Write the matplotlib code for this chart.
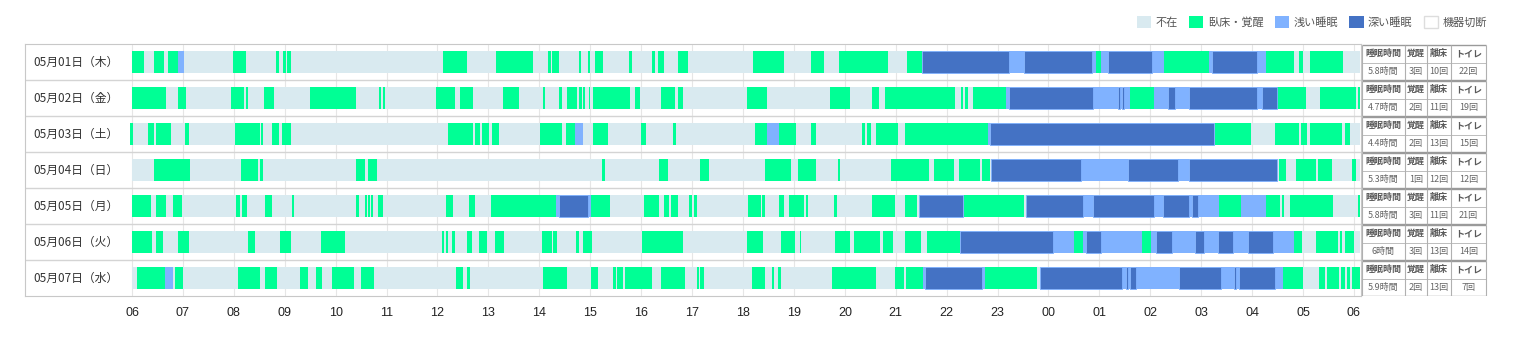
import matplotlib.pyplot as plt
from matplotlib.patches import Patch

plt.rcParams['font.family'] = ['Noto Sans CJK JP', 'DejaVu Sans']

# hours measured from 06:00 (0 .. 24)
hour_labels = ['06', '07', '08', '09', '10', '11', '12', '13', '14', '15', '16', '17',
               '18', '19', '20', '21', '22', '23', '00', '01', '02', '03', '04', '05', '06']

day_labels = ['05月01日（木）', '05月02日（金）', '05月03日（土）', '05月04日（日）',
              '05月05日（月）', '05月06日（火）', '05月07日（水）']

# W = 臥床・覚醒, L = 浅い睡眠, D = 深い睡眠 (rest of the day is 不在)
seg_0501 = [(0.0, 0.23, 'W'), (0.44, 0.63, 'W'), (0.71, 0.90, 'W'), (0.90, 1.03, 'L'),
            (1.98, 2.24, 'W'), (2.83, 2.88, 'W'), (2.97, 3.02, 'W'), (3.05, 3.12, 'W'),
            (6.10, 6.57, 'W'), (7.14, 7.88, 'W'), (8.18, 8.22, 'W'), (8.24, 8.38, 'W'),
            (8.77, 8.81, 'W'), (8.95, 9.00, 'W'), (9.09, 9.25, 'W'), (9.77, 9.82, 'W'),
            (10.22, 10.28, 'W'), (10.33, 10.45, 'W'), (10.73, 10.92, 'W'), (12.20, 12.80, 'W'),
            (13.33, 13.60, 'W'), (13.88, 14.85, 'W'), (15.22, 15.51, 'W'), (15.51, 17.23, 'D'),
            (17.23, 17.52, 'L'), (17.52, 18.85, 'D'), (18.85, 18.93, 'L'), (18.93, 19.04, 'W'),
            (19.04, 19.17, 'L'), (19.17, 20.04, 'D'), (20.04, 20.27, 'L'), (20.27, 21.16, 'W'),
            (21.16, 21.21, 'L'), (21.21, 22.09, 'D'), (22.09, 22.28, 'L'), (22.28, 22.82, 'W'),
            (22.92, 22.99, 'W'), (23.13, 23.79, 'W')]

seg_0502 = [(0.0, 0.67, 'W'), (0.90, 1.07, 'W'), (1.94, 2.20, 'W'), (2.24, 2.28, 'W'),
            (2.59, 2.78, 'W'), (3.49, 4.39, 'W'), (4.86, 4.90, 'W'), (4.92, 4.97, 'W'),
            (5.97, 6.34, 'W'), (6.44, 6.70, 'W'), (7.29, 7.60, 'W'), (8.08, 8.11, 'W'),
            (8.39, 8.44, 'W'), (8.55, 8.74, 'W'), (8.77, 8.83, 'W'), (8.86, 8.89, 'W'),
            (8.97, 9.00, 'W'), (9.05, 9.79, 'W'), (9.88, 9.98, 'W'), (10.39, 10.66, 'W'),
            (10.73, 10.82, 'W'), (12.08, 12.47, 'W'), (13.71, 14.11, 'W'), (14.54, 14.67, 'W'),
            (14.78, 16.17, 'W'), (16.29, 16.33, 'W'), (16.36, 16.41, 'W'), (16.52, 17.16, 'W'),
            (17.16, 17.22, 'L'), (17.22, 18.87, 'D'), (18.87, 19.37, 'L'), (19.37, 19.40, 'D'),
            (19.40, 19.45, 'L'), (19.45, 19.48, 'D'), (19.48, 19.60, 'L'), (19.60, 20.07, 'W'),
            (20.07, 20.35, 'L'), (20.35, 20.49, 'D'), (20.49, 20.75, 'L'), (20.75, 22.09, 'D'),
            (22.09, 22.19, 'L'), (22.19, 22.49, 'D'), (22.49, 23.06, 'W'), (23.33, 24.03, 'W'),
            (24.07, 24.12, 'W')]

seg_0503 = [(-0.03, 0.01, 'W'), (0.31, 0.43, 'W'), (0.47, 0.77, 'W'), (1.04, 1.11, 'W'),
            (2.02, 2.51, 'W'), (2.53, 2.58, 'W'), (2.75, 2.89, 'W'), (2.95, 3.12, 'W'),
            (6.21, 6.70, 'W'), (6.74, 6.83, 'W'), (6.87, 7.01, 'W'), (7.07, 7.21, 'W'),
            (8.01, 8.44, 'W'), (8.52, 8.71, 'W'), (8.71, 8.85, 'L'), (9.05, 9.35, 'W'),
            (10.00, 10.09, 'W'), (10.62, 10.68, 'W'), (12.24, 12.48, 'W'), (12.48, 12.70, 'L'),
            (12.70, 13.05, 'W'), (13.33, 13.43, 'W'), (14.34, 14.40, 'W'), (14.43, 14.51, 'W'),
            (14.61, 15.04, 'W'), (15.18, 16.82, 'W'), (16.82, 16.85, 'L'), (16.85, 21.25, 'D'),
            (21.27, 21.98, 'W'), (22.45, 22.91, 'W'), (22.96, 23.08, 'W'), (23.13, 23.76, 'W'),
            (23.83, 23.93, 'W')]

seg_0504 = [(0.43, 1.14, 'W'), (2.15, 2.47, 'W'), (2.51, 2.58, 'W'), (4.39, 4.58, 'W'),
            (4.63, 4.82, 'W'), (9.24, 9.29, 'W'), (10.36, 10.52, 'W'), (11.15, 11.33, 'W'),
            (12.43, 12.94, 'W'), (13.08, 13.43, 'W'), (13.87, 13.91, 'W'), (14.91, 15.65, 'W'),
            (15.76, 16.14, 'W'), (16.25, 16.65, 'W'), (16.70, 16.86, 'W'), (16.88, 18.64, 'D'),
            (18.64, 19.57, 'L'), (19.57, 20.55, 'D'), (20.55, 20.75, 'L'), (20.75, 22.48, 'D'),
            (22.53, 22.66, 'W'), (22.86, 23.25, 'W'), (23.29, 23.57, 'W'), (23.96, 24.03, 'W')]

seg_0505 = [(0.0, 0.37, 'W'), (0.47, 0.67, 'W'), (0.81, 0.98, 'W'), (2.05, 2.13, 'W'),
            (2.17, 2.25, 'W'), (2.62, 2.75, 'W'), (3.14, 3.18, 'W'), (4.39, 4.46, 'W'),
            (4.58, 4.61, 'W'), (4.64, 4.67, 'W'), (4.69, 4.73, 'W'), (4.83, 4.92, 'W'),
            (6.17, 6.30, 'W'), (6.61, 6.74, 'W'), (7.05, 8.32, 'W'), (8.32, 8.39, 'L'),
            (8.39, 8.95, 'D'), (8.95, 9.01, 'L'), (9.01, 9.38, 'W'), (10.06, 10.36, 'W'),
            (10.45, 10.54, 'W'), (10.58, 10.72, 'W'), (10.94, 11.00, 'W'), (11.04, 11.09, 'W'),
            (12.10, 12.36, 'W'), (12.38, 12.43, 'W'), (12.70, 12.80, 'W'), (12.90, 13.20, 'W'),
            (13.23, 13.27, 'W'), (13.79, 13.84, 'W'), (14.54, 14.98, 'W'), (15.18, 15.42, 'W'),
            (15.45, 16.33, 'D'), (16.34, 17.52, 'W'), (17.56, 18.67, 'D'), (18.67, 18.87, 'L'),
            (18.87, 20.07, 'D'), (20.07, 20.24, 'L'), (20.24, 20.76, 'D'), (20.76, 20.82, 'L'),
            (20.82, 20.94, 'D'), (20.94, 21.35, 'L'), (21.35, 21.79, 'W'), (21.79, 22.28, 'L'),
            (22.28, 22.54, 'W'), (22.58, 22.62, 'W'), (22.75, 23.59, 'W'), (24.08, 24.12, 'W')]

seg_0506 = [(0.0, 0.40, 'W'), (0.47, 0.61, 'W'), (0.90, 1.11, 'W'), (2.28, 2.42, 'W'),
            (2.91, 3.12, 'W'), (3.72, 4.19, 'W'), (6.09, 6.13, 'W'), (6.16, 6.21, 'W'),
            (6.28, 6.34, 'W'), (6.57, 6.68, 'W'), (6.81, 6.97, 'W'), (7.13, 7.30, 'W'),
            (8.05, 8.24, 'W'), (8.27, 8.34, 'W'), (8.72, 8.78, 'W'), (8.85, 9.03, 'W'),
            (10.02, 10.82, 'W'), (12.08, 12.40, 'W'), (12.74, 13.03, 'W'), (13.11, 13.14, 'W'),
            (13.81, 14.11, 'W'), (14.18, 14.69, 'W'), (14.75, 14.94, 'W'), (15.18, 15.49, 'W'),
            (15.62, 16.26, 'W'), (16.27, 18.09, 'D'), (18.09, 18.50, 'L'), (18.50, 18.68, 'W'),
            (18.68, 18.73, 'L'), (18.73, 19.04, 'D'), (19.04, 19.83, 'L'), (19.83, 20.02, 'W'),
            (20.02, 20.11, 'L'), (20.11, 20.42, 'D'), (20.42, 20.88, 'L'), (20.88, 21.06, 'D'),
            (21.06, 21.32, 'L'), (21.32, 21.63, 'D'), (21.63, 21.92, 'L'), (21.92, 22.40, 'D'),
            (22.40, 22.82, 'L'), (22.82, 22.97, 'W'), (23.26, 23.69, 'W'), (23.73, 23.76, 'W'),
            (23.83, 24.00, 'W')]

seg_0507 = [(0.10, 0.64, 'W'), (0.64, 0.80, 'L'), (0.84, 1.00, 'W'), (2.09, 2.51, 'W'),
            (2.62, 2.85, 'W'), (3.29, 3.46, 'W'), (3.62, 3.73, 'W'), (3.93, 4.36, 'W'),
            (4.50, 4.76, 'W'), (6.37, 6.51, 'W'), (6.57, 6.64, 'W'), (8.08, 8.54, 'W'),
            (9.02, 9.15, 'W'), (9.45, 9.50, 'W'), (9.53, 9.64, 'W'), (9.69, 10.22, 'W'),
            (10.39, 10.86, 'W'), (11.09, 11.13, 'W'), (11.15, 11.23, 'W'), (12.17, 12.43, 'W'),
            (12.57, 12.60, 'W'), (12.68, 12.74, 'W'), (13.75, 14.61, 'W'), (14.98, 15.16, 'W'),
            (15.21, 15.53, 'W'), (15.53, 15.58, 'L'), (15.58, 16.69, 'D'), (16.69, 16.75, 'L'),
            (16.75, 17.77, 'W'), (17.83, 19.44, 'D'), (19.44, 19.52, 'L'), (19.52, 19.56, 'D'),
            (19.56, 19.60, 'L'), (19.60, 19.72, 'D'), (19.72, 20.57, 'L'), (20.57, 21.38, 'D'),
            (21.38, 21.65, 'L'), (21.65, 21.68, 'D'), (21.68, 21.75, 'L'), (21.75, 22.45, 'D'),
            (22.45, 22.61, 'L'), (22.61, 22.99, 'W'), (23.32, 23.43, 'W'), (23.46, 23.70, 'W'),
            (23.74, 23.83, 'W'), (23.87, 23.92, 'W'), (23.96, 24.12, 'W')]

day_segments = [seg_0501, seg_0502, seg_0503, seg_0504, seg_0505, seg_0506, seg_0507]
record_end = 24.12

# summary table
table_headers = ['睡眠時間', '覚醒', '離床', 'トイレ']
sleep_time = ['5.8時間', '4.7時間', '4.4時間', '5.3時間', '5.8時間', '6時間', '5.9時間']
wake_count = [3, 2, 2, 1, 3, 3, 2]
outbed_count = [10, 11, 13, 12, 11, 13, 13]
toilet_count = [22, 19, 15, 12, 21, 14, 7]

state_names = ['不在', '臥床・覚醒', '浅い睡眠', '深い睡眠', '機器切断']
state_colors = {'A': '#d9eaf0', 'W': '#00ff95', 'L': '#80b2ff', 'D': '#4472c4', 'X': '#ffffff'}

W, H = 1530, 338
fig = plt.figure(figsize=(W / 100, H / 100), dpi=100)

# main timeline, frame from x=25..1361, y=44..296 px
ax = fig.add_axes([25 / W, (H - 296) / H, (1361 - 25) / W, 252 / H])
px_h = (1354 - 132) / 24
ax.set_xlim((25 - 132) / px_h, (1361 - 132) / px_h)
ax.set_ylim(len(day_labels), 0)

ax.vlines(range(25), 0, len(day_labels), color='#e6e6e6', lw=0.8, zorder=0)
ax.hlines(range(1, len(day_labels)), *ax.get_xlim(), color='#d4d4d4', lw=1, zorder=0)

bar_h = 0.61
for i, segs in enumerate(day_segments):
    y0 = i + (1 - bar_h) / 2
    ax.broken_barh([(0, record_end)], (y0, bar_h), facecolor=state_colors['A'], zorder=1)
    for code in ['W', 'L', 'D']:
        spans = [(s, e - s) for s, e, c in segs if c == code]
        if code == 'D':
            ax.broken_barh(spans, (y0, bar_h), facecolor=state_colors[code],
                           edgecolor=state_colors['L'], linewidth=0.6, zorder=2)
        else:
            ax.broken_barh(spans, (y0, bar_h), facecolor=state_colors[code], zorder=2)
    ax.text((75.5 - 132) / px_h, i + 0.5, day_labels[i], ha='center', va='center',
            fontsize=8.5, color='#333333')

ax.set_xticks(range(25))
ax.set_xticklabels(hour_labels, fontfamily='Liberation Sans', fontsize=9, color='#222222')
ax.tick_params(axis='x', length=0, pad=8)
ax.set_yticks([])
for sp in ax.spines.values():
    sp.set_color('#c8c8c8')

# summary table on the right, drawn in pixel units
tax = fig.add_axes([1361 / W, (H - 296) / H, 127 / W, 252 / H])
tax.set_xlim(0, 127)
tax.set_ylim(252, 0)
tax.axis('off')
col_edges = [0.5, 44, 66, 90, 125]
for i in range(len(day_labels)):
    top = 36 * i + 0.5
    mid = 36 * i + 19
    bot = 36 * (i + 1) - 0.5
    vals = [sleep_time[i], f'{wake_count[i]}回', f'{outbed_count[i]}回', f'{toilet_count[i]}回']
    tax.hlines([top, bot], 0.5, 125, color='#9a9a9a', lw=1.0)
    tax.hlines(mid, 0.5, 125, color='#bdbdbd', lw=0.7)
    tax.vlines(col_edges, top, bot, color='#b0b0b0', lw=0.8)
    for j in range(4):
        cx = (col_edges[j] + col_edges[j + 1]) / 2
        tax.text(cx, (top + mid) / 2, table_headers[j], ha='center', va='center',
                 fontsize=6.5, fontweight='bold', color='#5a5a5a')
        tax.text(cx, (mid + bot) / 2, vals[j], ha='center', va='center',
                 fontsize=6.5, color='#666666')

handles = [Patch(facecolor=state_colors[c], edgecolor=('#dddddd' if c == 'X' else 'none'))
           for c in ['A', 'W', 'L', 'D', 'X']]
leg = fig.legend(handles, state_names, loc='upper right', bbox_to_anchor=(1497 / W, 1 - 6 / H),
                 ncol=5, frameon=False, fontsize=8, handlelength=1.3, handleheight=1.3,
                 handletextpad=0.4, columnspacing=1.0)
for t in leg.get_texts():
    t.set_color('#555555')

fig.savefig('out.png', dpi=100)
